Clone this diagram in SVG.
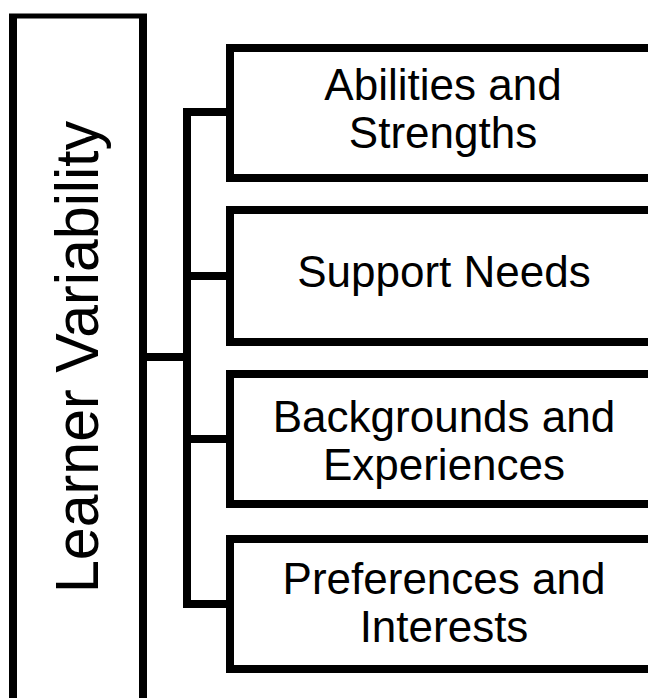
<svg xmlns="http://www.w3.org/2000/svg" width="648" height="698" viewBox="0 0 648 698">
  <style>
    .box { fill: #ffffff; stroke: #000000; stroke-width: 8; }
    .edge { fill: none; stroke: #000000; stroke-width: 8; stroke-linejoin: miter; }
    .lbl { font-family: "Liberation Sans", Arial, sans-serif; font-size: 44px; fill: #000000; text-anchor: middle; }
    .title { font-family: "Liberation Sans", Arial, sans-serif; font-size: 61px; fill: #000000; text-anchor: middle; }
  </style>
  <rect x="0" y="0" width="648" height="698" fill="#ffffff"/>
  <g id="connectors">
    <path class="edge" d="M230,112 H187 V604 H230"/>
    <path class="edge" d="M187,276 H230"/>
    <path class="edge" d="M187,439 H230"/>
    <path class="edge" d="M143,357 H187"/>
  </g>
  <g id="learner-variability">
    <rect x="13" y="16" width="130" height="700" fill="#ffffff" stroke="none"/>
    <path d="M13,16 V710 M143,16 V710" fill="none" stroke="#000" stroke-width="8"/>
    <path d="M9,16 H147" fill="none" stroke="#000" stroke-width="5"/>
    <text class="title" transform="translate(98,357) rotate(-90)" x="0" y="0" textLength="472" lengthAdjust="spacingAndGlyphs">Learner Variability</text>
  </g>
  <g id="abilities">
    <rect class="box" x="230" y="48" width="500" height="130"/>
    <text class="lbl" x="443" y="100">Abilities and</text>
    <text class="lbl" x="443" y="148">Strengths</text>
  </g>
  <g id="support">
    <rect class="box" x="230" y="210" width="500" height="132"/>
    <text class="lbl" x="444" y="287">Support Needs</text>
  </g>
  <g id="backgrounds">
    <rect class="box" x="230" y="374" width="500" height="130"/>
    <text class="lbl" x="444" y="432">Backgrounds and</text>
    <text class="lbl" x="444" y="480">Experiences</text>
  </g>
  <g id="preferences">
    <rect class="box" x="230" y="539" width="500" height="130"/>
    <text class="lbl" x="444" y="594">Preferences and</text>
    <text class="lbl" x="444" y="642">Interests</text>
  </g>
</svg>
